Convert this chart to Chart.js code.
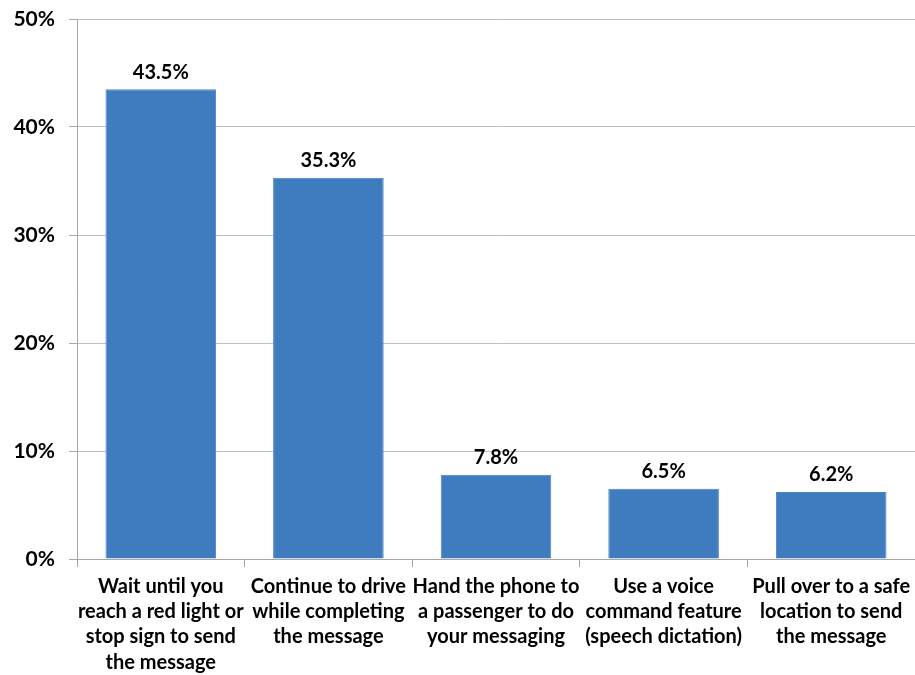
<!DOCTYPE html>
<html>
<head>
<meta charset="utf-8">
<script src="https://cdn.jsdelivr.net/npm/chart.js@4"></script>
<style>
  html, body { margin: 0; padding: 0; background: #fff; }
  #wrap { width: 915px; height: 675px; }
</style>
</head>
<body>
<div id="wrap"><canvas id="myChart" width="915" height="675"></canvas></div>
<script>
// categories, one array of lines per bar
const categories = [
    ["Wait until you", "reach a red light or", "stop sign to send", "the message"],
    ["Continue to drive", "while completing", "the message"],
    ["Hand the phone to", "a passenger to do", "your messaging"],
    ["Use a voice", "command feature", "(speech dictation)"],
    ["Pull over to a safe", "location to send", "the message"]
];
const shares = [43.5, 35.3, 7.8, 6.5, 6.2];
const yTicks = [0, 10, 20, 30, 40, 50];

const FONT = "Lato, 'Open Sans', sans-serif";

// draws the value labels above each bar
const barLabels = {
    id: "barLabels",
    afterDatasetsDraw(chart) {
        const ctx = chart.ctx;
        const meta = chart.getDatasetMeta(0);
        ctx.save();
        ctx.font = "bold 20px " + FONT;
        ctx.fillStyle = "#000";
        ctx.textAlign = "center";
        ctx.textBaseline = "bottom";
        meta.data.forEach((bar, i) => {
            ctx.fillText(shares[i].toFixed(1) + "%", bar.x, bar.y - 7);
        });
        ctx.restore();
    }
};

let myChart = new Chart("myChart", {
    type: "bar",
    data: {
        labels: categories,
        datasets: [{
            data: shares,
            backgroundColor: "#3F7CBF",
            borderColor: "#4A84C4",
            borderWidth: 1,
            barPercentage: 0.66,
            categoryPercentage: 1
        }]
    },
    options: {
        responsive: false,
        animation: false,
        layout: { padding: { top: 19, right: 0, bottom: 0, left: 0 } },
        plugins: {
            legend: { display: false },
            tooltip: { enabled: false }
        },
        scales: {
            x: {
                grid: {
                    offset: true,
                    drawOnChartArea: false,
                    drawTicks: true,
                    tickLength: 8,
                    color: "#A6A6A6"
                },
                border: { display: true, color: "#A6A6A6" },
                ticks: {
                    autoSkip: false,
                    maxRotation: 0,
                    minRotation: 0,
                    padding: 7,
                    color: "#000",
                    font: { family: FONT, size: 20, weight: "bold", lineHeight: 1.26 }
                },
                afterFit(scale) { scale.height = 116; scale.paddingLeft = 0; scale.paddingRight = 0; }
            },
            y: {
                min: 0,
                max: 50,
                afterBuildTicks(scale) {
                    scale.ticks = yTicks.map(v => ({ value: v }));
                },
                grid: {
                    color: "#BFBFBF",
                    tickLength: 8,
                    tickColor: "#A6A6A6"
                },
                border: { display: true, color: "#A6A6A6" },
                ticks: {
                    padding: 14,
                    color: "#000",
                    font: { family: FONT, size: 21, weight: "bold" },
                    callback: v => v + "%"
                },
                afterFit(scale) { scale.width = 77; scale.paddingTop = 0; scale.paddingBottom = 0; }
            }
        }
    },
    plugins: [barLabels]
});
</script>
</body>
</html>
